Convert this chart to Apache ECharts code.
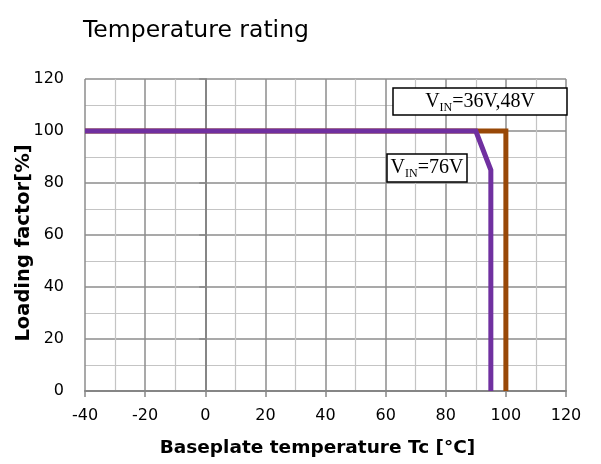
<!DOCTYPE html>
<html>
<head>
<meta charset="utf-8">
<script src="https://cdn.jsdelivr.net/npm/echarts@6/dist/echarts.min.js"></script>
<style>
  html, body { margin: 0; padding: 0; background: #fff; }
  #chart { width: 601px; height: 464px; }
</style>
</head>
<body>
<div id="chart"></div>
<script>
// derating curves, Tc [°C] vs loading factor [%]
const tempHigh = [-40, 100, 100];      // VIN = 36V, 48V
const loadHigh = [100, 100, 0];
const tempLow = [-40, 90, 95, 95];     // VIN = 76V
const loadLow = [100, 100, 85, 0];

const xTicks = [-40, -20, 0, 20, 40, 60, 80, 100, 120];
const yTicks = [0, 20, 40, 60, 80, 100, 120];

const pairs = (xs, ys) => xs.map((x, i) => [x, ys[i]]);

// subscript label "V_IN=..."
const vin = rest => '{v|V}{s|IN}{v|' + rest + '}';
const vinRich = {
    v: { fontFamily: 'Liberation Serif', fontSize: 20, lineHeight: 20, color: '#000', verticalAlign: 'top' },
    s: { fontFamily: 'Liberation Serif', fontSize: 12, lineHeight: 12, color: '#000', padding: [10, 0, 0, 0], verticalAlign: 'top' }
};

const chart = echarts.init(document.getElementById('chart'));

const majorLine = { color: '#8c8c8c', width: 1.5 };
const minorLine = { color: '#c4c4c4', width: 1.2 };
const tickFont = { fontFamily: 'DejaVu Sans', fontSize: 16, color: '#000' };
const nameFont = { fontFamily: 'DejaVu Sans', fontWeight: 'bold', color: '#000' };

const option = {
    animation: false,
    title: {
        text: 'Temperature rating',
        left: 78,
        top: 14,
        textStyle: { fontFamily: 'DejaVu Sans', fontSize: 23.5, fontWeight: 'normal', color: '#000' }
    },
    grid: { left: 85, right: 35, top: 79, bottom: 73, containLabel: false, outerBoundsMode: 'none' },
    xAxis: {
        type: 'value',
        min: xTicks[0],
        max: xTicks[xTicks.length - 1],
        interval: 20,
        name: 'Baseplate temperature Tc [°C]',
        nameLocation: 'middle',
        nameGap: 48,
        nameMoveOverlap: false,
        nameTextStyle: Object.assign({ fontSize: 18.5, padding: [0, 16, 0, 0] }, nameFont),
        axisLine: { show: true, lineStyle: { color: '#868686', width: 2 } },
        axisTick: { show: true, length: 6, lineStyle: { color: '#868686', width: 1.5 } },
        axisLabel: Object.assign({ margin: 17 }, tickFont),
        splitLine: { show: true, lineStyle: majorLine },
        minorTick: { show: false, splitNumber: 2 },
        minorSplitLine: { show: true, lineStyle: minorLine }
    },
    yAxis: {
        type: 'value',
        min: yTicks[0],
        max: yTicks[yTicks.length - 1],
        interval: 20,
        name: 'Loading factor[%]',
        nameLocation: 'middle',
        nameGap: 51,
        nameMoveOverlap: false,
        nameTextStyle: Object.assign({ fontSize: 19.5, padding: [0, 16, 0, 0] }, nameFont),
        axisLine: { show: true, lineStyle: { color: '#868686', width: 2 } },
        axisTick: { show: true, length: 6, lineStyle: { color: '#868686', width: 1.5 } },
        axisLabel: Object.assign({ margin: 21 }, tickFont),
        splitLine: { show: true, lineStyle: majorLine },
        minorTick: { show: false, splitNumber: 2 },
        minorSplitLine: { show: true, lineStyle: minorLine }
    },
    series: [
        {
            name: 'VIN=36V,48V',
            type: 'line',
            data: pairs(tempHigh, loadHigh),
            symbol: 'none',
            lineStyle: { color: '#984807', width: 5, join: 'miter', cap: 'butt' },
            z: 3
        },
        {
            name: 'VIN=76V',
            type: 'line',
            data: pairs(tempLow, loadLow),
            symbol: 'none',
            lineStyle: { color: '#7030a0', width: 5, join: 'miter', cap: 'butt' },
            z: 4
        }
    ],
    graphic: [
        {
            type: 'rect', z: 10,
            shape: { x: 393, y: 88, width: 174, height: 27 },
            style: { fill: '#fff', stroke: '#000', lineWidth: 1.5 }
        },
        {
            type: 'text', z: 11,
            x: 480, y: 101.5,
            style: { text: vin('=36V,48V'), rich: vinRich, align: 'center', verticalAlign: 'middle' }
        },
        {
            type: 'rect', z: 10,
            shape: { x: 387, y: 154, width: 80, height: 28 },
            style: { fill: '#fff', stroke: '#000', lineWidth: 1.5 }
        },
        {
            type: 'text', z: 11,
            x: 427, y: 168,
            style: { text: vin('=76V'), rich: vinRich, align: 'center', verticalAlign: 'middle' }
        }
    ]
};

chart.setOption(option);
</script>
</body>
</html>
